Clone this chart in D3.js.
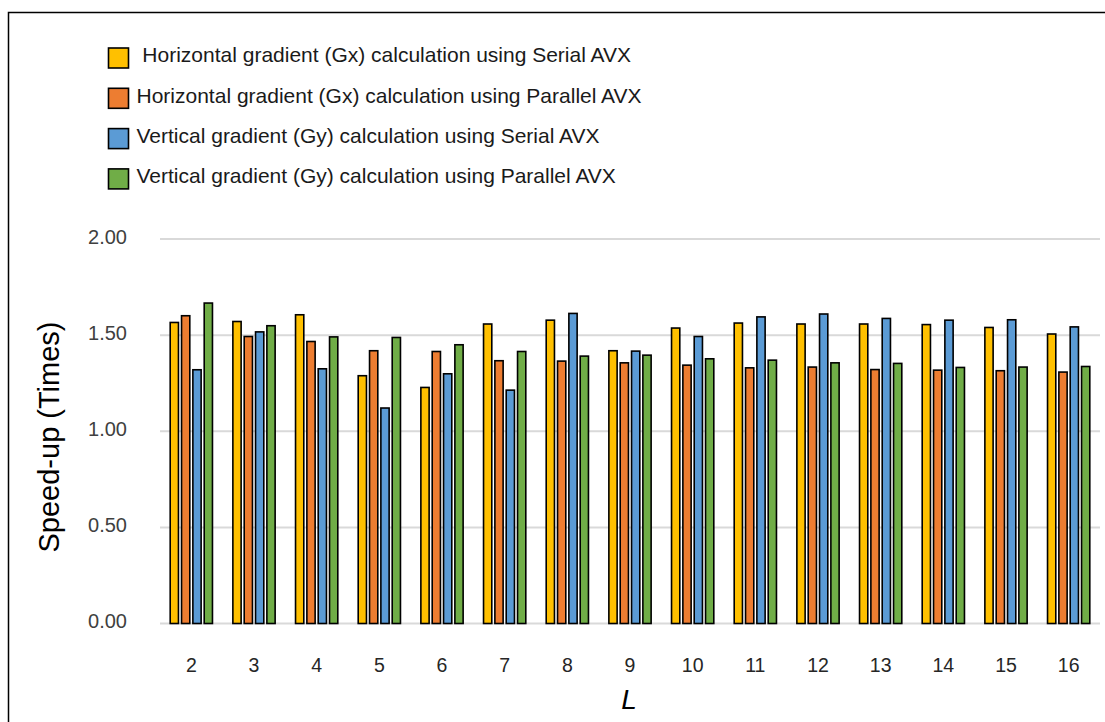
<!DOCTYPE html>
<html>
<head>
<meta charset="utf-8">
<script src="https://cdn.jsdelivr.net/npm/d3@7"></script>
<style>
  html, body { margin: 0; padding: 0; background: #fff; }
  svg { display: block; font-family: "Liberation Sans", Arial, sans-serif; }
</style>
</head>
<body>
<svg id="chart" width="1105" height="722"></svg>
<script>
// Block sizes L on the x axis
const categories = ["2", "3", "4", "5", "6", "7", "8", "9", "10", "11", "12", "13", "14", "15", "16"];

// Speed-up (times) per series
const gxSerial   = [1.570, 1.575, 1.610, 1.293, 1.232, 1.562, 1.582, 1.423, 1.541, 1.567, 1.562, 1.562, 1.559, 1.544, 1.510];
const gxParallel = [1.605, 1.497, 1.471, 1.423, 1.419, 1.371, 1.369, 1.360, 1.348, 1.334, 1.338, 1.325, 1.322, 1.319, 1.312];
const gySerial   = [1.324, 1.521, 1.329, 1.125, 1.303, 1.218, 1.617, 1.421, 1.497, 1.599, 1.614, 1.591, 1.582, 1.584, 1.547];
const gyParallel = [1.671, 1.553, 1.495, 1.492, 1.454, 1.419, 1.395, 1.400, 1.381, 1.374, 1.360, 1.357, 1.336, 1.338, 1.341];

const seriesNames = [
  " Horizontal gradient (Gx) calculation using Serial AVX",
  "Horizontal gradient (Gx) calculation using Parallel AVX",
  "Vertical gradient (Gy) calculation using Serial AVX",
  "Vertical gradient (Gy) calculation using Parallel AVX"
];
const seriesColors = ["#FFC000", "#ED7D31", "#5B9BD5", "#70AD47"];
const yTicks = [0, 0.5, 1.0, 1.5, 2.0];

const series = [gxSerial, gxParallel, gySerial, gyParallel];

const svg = d3.select("#chart");

// Outer frame
svg.append("rect")
  .attr("x", 8.5).attr("y", 12.5)
  .attr("width", 1120).attr("height", 740)
  .attr("fill", "none").attr("stroke", "#000").attr("stroke-width", 1.5);

const plot = { left: 160, right: 1100, top: 239, bottom: 623.5 };

const x = d3.scaleBand()
  .domain(categories)
  .range([plot.left, plot.right])
  .paddingInner(0.3)
  .paddingOuter(0.15);

const xs = d3.scaleBand()
  .domain(d3.range(series.length))
  .range([0, x.bandwidth()])
  .paddingInner(0.13)
  .paddingOuter(0);

const y = d3.scaleLinear()
  .domain([0, 2])
  .range([plot.bottom, plot.top]);

// Horizontal gridlines
svg.append("g")
  .selectAll("line")
  .data(yTicks)
  .join("line")
  .attr("x1", plot.left).attr("x2", plot.right)
  .attr("y1", d => y(d)).attr("y2", d => y(d))
  .attr("stroke", "#d9d9d9")
  .attr("stroke-width", 2);

// Y axis labels
const yAxis = d3.axisLeft(y)
  .tickValues(yTicks)
  .tickFormat(d3.format(".2f"))
  .tickSize(0)
  .tickPadding(0);
const yg = svg.append("g")
  .attr("transform", `translate(127,-2)`)
  .call(yAxis);
yg.select(".domain").remove();
yg.selectAll("text")
  .attr("fill", "#404040")
  .style("font-size", "20px");

// X axis labels
const xAxis = d3.axisBottom(x).tickSize(0).tickPadding(0);
const xg = svg.append("g")
  .attr("transform", `translate(0,0)`)
  .call(xAxis);
xg.select(".domain").remove();
xg.selectAll("text")
  .attr("y", 672)
  .attr("dy", null)
  .attr("fill", "#262626")
  .style("font-size", "19.5px");

// Bars
const sw = 1.6;
const groups = svg.append("g")
  .selectAll("g")
  .data(categories)
  .join("g")
  .attr("transform", d => `translate(${x(d)},0)`);

groups.selectAll("rect")
  .data((d, i) => series.map((s, k) => ({ k, v: s[i] })))
  .join("rect")
  .attr("x", d => xs(d.k) + sw / 2)
  .attr("width", xs.bandwidth() - sw)
  .attr("y", d => y(d.v) + sw / 2)
  .attr("height", d => y(0) - y(d.v) - sw / 2)
  .attr("fill", d => seriesColors[d.k])
  .attr("stroke", "#000")
  .attr("stroke-width", sw);

// Axis titles
svg.append("text")
  .attr("transform", "translate(59,437) rotate(-90)")
  .attr("text-anchor", "middle")
  .attr("fill", "#000")
  .style("font-size", "29px")
  .text("Speed-up (Times)");

svg.append("text")
  .attr("x", 629).attr("y", 709)
  .attr("text-anchor", "middle")
  .attr("fill", "#000")
  .style("font-size", "28px")
  .style("font-style", "italic")
  .text("L");

// Legend
const legend = svg.append("g")
  .selectAll("g")
  .data(seriesNames)
  .join("g")
  .attr("transform", (d, i) => `translate(108.5,${48 + i * 40.3})`);

legend.append("rect")
  .attr("width", 20).attr("height", 20)
  .attr("fill", (d, i) => seriesColors[i])
  .attr("stroke", "#000")
  .attr("stroke-width", 1.6);

legend.append("text")
  .attr("x", 28).attr("y", 7)
  .attr("dy", "0.35em")
  .attr("fill", "#1a1a1a")
  .style("font-size", "21px")
  .style("white-space", "pre")
  .attr("xml:space", "preserve")
  .text(d => d);
</script>
</body>
</html>
